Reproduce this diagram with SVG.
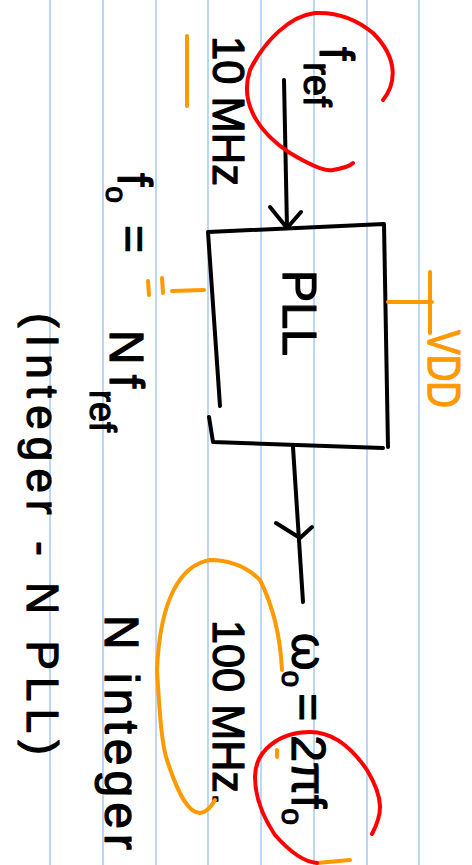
<svg xmlns="http://www.w3.org/2000/svg" width="472" height="865" viewBox="0 0 472 865">
<style>
.guide{stroke:#a9cdf7;stroke-width:1.6}
.ink{fill:none;stroke:#000;stroke-width:4;stroke-linecap:round;stroke-linejoin:round}
.red{fill:none;stroke:#f00;stroke-width:4;stroke-linecap:round}
.org{fill:none;stroke:#f90;stroke-width:4;stroke-linecap:round;stroke-linejoin:round}
text{font-family:"Liberation Sans",Arial,sans-serif;fill:#000;stroke:#000;stroke-width:1.2;stroke-linejoin:round}
text.o{fill:#f90;stroke:#f90}
</style>
<rect width="472" height="865" fill="#fff"/>
<g id="guides">
<line class="guide" x1="50" y1="0" x2="50" y2="865"/>
<line class="guide" x1="103" y1="0" x2="103" y2="865"/>
<line class="guide" x1="156" y1="0" x2="156" y2="865"/>
<line class="guide" x1="208" y1="0" x2="208" y2="865"/>
<line class="guide" x1="261" y1="0" x2="261" y2="865"/>
<line class="guide" x1="314" y1="0" x2="314" y2="865"/>
<line class="guide" x1="367" y1="0" x2="367" y2="865"/>
<line class="guide" x1="419" y1="0" x2="419" y2="865"/>
</g>
<g id="pll">
<path class="ink" d="M208,232 L220,406 M208,232 L384,224 L388,447 M383,448 L213,442 L209,417"/>
<text transform="translate(283,270) rotate(90)" font-size="48" textLength="86" lengthAdjust="spacingAndGlyphs">PLL</text>
</g>
<g id="vdd">
<path class="org" d="M388,302 L432,302 M430,272 L430,333"/>
<text class="o" transform="translate(428,330) rotate(90)" font-size="46" textLength="78" lengthAdjust="spacingAndGlyphs">VDD</text>
</g>
<g id="connectors">
<path class="ink" d="M284,80 L287,228 M270,207 L287,228 L301,212"/>
<path class="ink" d="M293,447 L303,602 M276,523 L300,538 L312,527"/>
</g>
<g id="fref">
<text transform="translate(320,47) rotate(90)" font-size="48">f<tspan font-size="38" dy="16" dx="2">ref</tspan></text>
<path class="red" d="M383,100 C395,85 400,60 373,33 C355,18 335,12 315,13 C290,16 265,40 250,70 C240,100 255,130 290,153 C310,165 325,172 333,170 C345,168 350,166 353,163"/>
</g>
<g id="ref-freq">
<text transform="translate(213,36) rotate(90)" font-size="44" textLength="150" lengthAdjust="spacingAndGlyphs">10 MHz</text>
<path class="org" d="M187,36 L187,106"/>
</g>
<g id="fo-eq">
<text transform="translate(118,173) rotate(90)" font-size="48">f<tspan font-size="30" dy="12">o</tspan><tspan dy="-12" dx="22">=</tspan></text>
<path class="org" d="M148,281 L149,295 M162,278 L163,293 M172,291 L204,290"/>
<text transform="translate(110,330) rotate(90)" font-size="48">N<tspan dx="10">f</tspan><tspan font-size="36" dy="20" dx="2">ref</tspan></text>
<text transform="translate(27,313) rotate(90)" font-size="44" textLength="442" lengthAdjust="spacing">(Integer - N PLL)</text>
</g>
<g id="output">
<text transform="translate(292,633) rotate(90)" font-size="48">ω<tspan font-size="30" dy="10">o</tspan><tspan dy="-10" dx="6">=</tspan><tspan dx="14">2πf</tspan><tspan font-size="30" dy="10">o</tspan></text>
<path class="org" d="M277,750 L277,757 M317,863 L350,860"/>
<path class="red" d="M372,834 C382,815 385,800 367,770 C350,745 330,732 310,732 C280,732 255,750 255,777 C255,800 265,820 275,835 C290,852 305,862 317,863"/>
<text transform="translate(213,620) rotate(90)" font-size="44" textLength="185" lengthAdjust="spacingAndGlyphs">100 MHz.</text>
<path class="org" d="M282,670 C280,630 270,600 260,580 C245,565 228,560 210,560 C180,565 160,600 157,670 C160,720 162,745 167,760 C180,800 190,813 200,813 C208,812 212,805 215,800"/>
<text transform="translate(105,615) rotate(90)" font-size="48" textLength="235" lengthAdjust="spacing">N integer</text>
</g>
</svg>
